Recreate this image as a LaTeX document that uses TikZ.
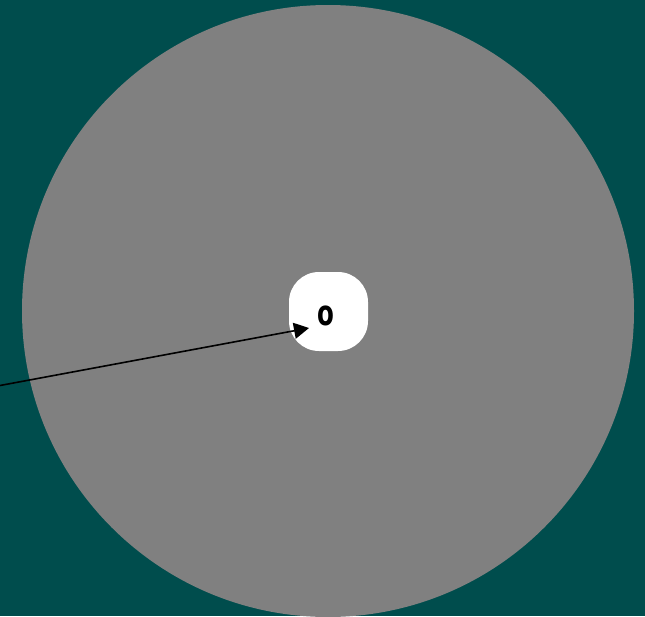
\documentclass[tikz,border=0pt]{standalone}
\usepackage{tikz}
\usepackage{fontspec}
\usetikzlibrary{positioning, arrows.meta}
\newfontfamily\heavysans{DejaVu Sans}
\definecolor{deepteal}{RGB}{0, 77, 77}
\definecolor{discgray}{RGB}{128, 128, 128}

\begin{document}
\begin{tikzpicture}[
        x=1pt, y=-1pt,
        disc/.style={circle, fill=discgray, minimum size=612pt, inner sep=0pt},
        hub/.style={fill=white, rounded corners=30pt, minimum width=79pt, minimum height=79pt, inner sep=0pt},
        letter/.style={font=\fontsize{35}{35}\selectfont\heavysans\bfseries, text=black, inner sep=0pt},
        pointer/.style={-{Triangle[length=15pt, width=16pt]}, line width=1.6pt, black}
    ]
        \fill[deepteal] (0,0) rectangle (645,616);
        \useasboundingbox (0,0) rectangle (645,616);
        \node[disc] (disc) at (328,311) {};
        \node[hub] (hub) at (328.5,311.5) {};
        \node[letter] (letter) at (326,315.5) {\scalebox{0.7}[1]{o}};
        \coordinate (tail) at (0,385.5);

        \draw[pointer] (tail) -- ([shift={(-19.5,16.5)}]hub.center);
    \end{tikzpicture}
\end{document}
